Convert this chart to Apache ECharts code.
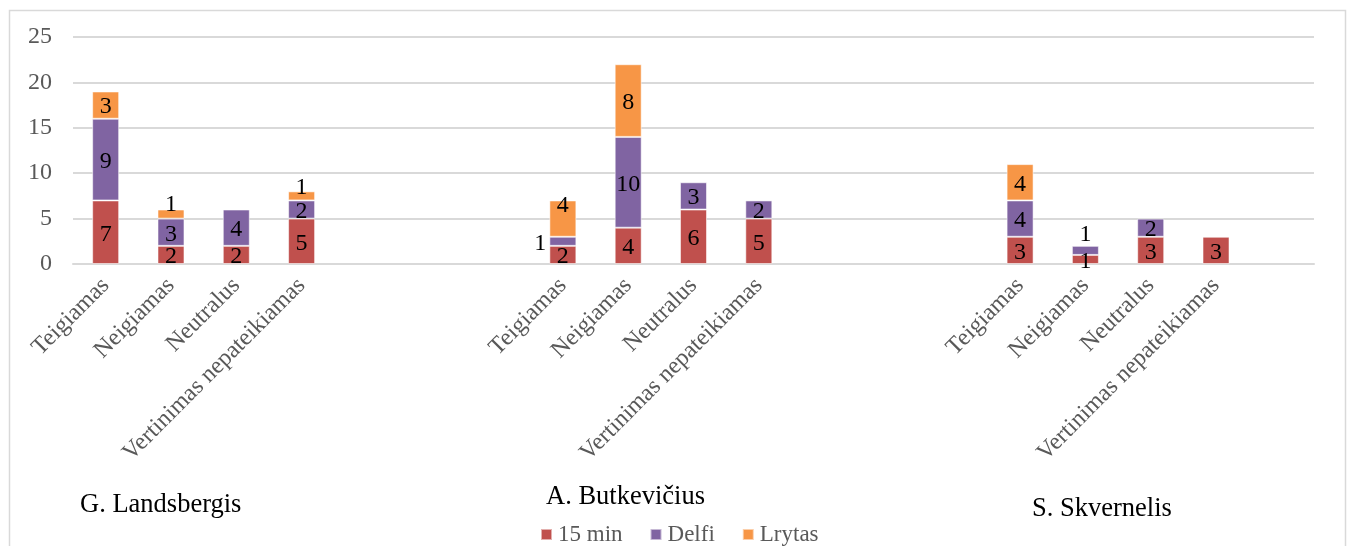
<!DOCTYPE html>
<html>
<head>
<meta charset="utf-8">
<script src="https://cdn.jsdelivr.net/npm/echarts@6/dist/echarts.min.js"></script>
<style>
html,body{margin:0;padding:0;background:#fff;}
#chart{width:1349px;height:546px;}
</style>
</head>
<body>
<div id="chart"></div>
<script>
// ---- data ----
const groups = ['G. Landsbergis', 'A. Butkevičius', 'S. Skvernelis'];
const categories = ['Teigiamas', 'Neigiamas', 'Neutralus', 'Vertinimas nepateikiamas'];
const seriesNames = ['15 min', 'Delfi', 'Lrytas'];
// values per group, in category order
const min15 = [[7, 2, 2, 5], [2, 4, 6, 5], [3, 1, 3, 3]];
const delfi = [[9, 3, 4, 2], [1, 10, 3, 2], [4, 1, 2, 0]];
const lrytas = [[3, 1, 0, 1], [4, 8, 0, 0], [4, 0, 0, 0]];
const yTicks = [0, 5, 10, 15, 20, 25];

// ---- layout helpers ----
const GAP = 3;       // empty slots between groups
const TRAIL = 1;     // empty slots at the end
const FONT = "'Liberation Serif','Times New Roman',serif";
const GRAY = '#595959';
const COLORS = ['#C0504D', '#8064A2', '#F79646'];

// label nudges (style only): key "seriesIdx-groupIdx-catIdx"
const labelNudge = {
  '2-0-1': {offset: [0, -9]},
  '2-0-3': {offset: [0, -8]},
  '1-1-0': {position: 'left', distance: 3},
  '2-1-0': {offset: [0, -13]},
  '1-2-1': {offset: [0, -16]}
};

const xCats = [];
groups.forEach((g, gi) => {
  categories.forEach(c => xCats.push(c));
  const n = gi < groups.length - 1 ? GAP : TRAIL;
  for (let k = 0; k < n; k++) xCats.push(' ' + gi + '_' + k);
});

function build(arr, si) {
  const out = [];
  arr.forEach((vals, gi) => {
    vals.forEach((v, ci) => {
      if (!v) { out.push(null); return; }
      const item = {value: v};
      const nudge = labelNudge[si + '-' + gi + '-' + ci];
      if (nudge) item.label = nudge;
      out.push(item);
    });
    const n = gi < groups.length - 1 ? GAP : TRAIL;
    for (let k = 0; k < n; k++) out.push(null);
  });
  return out;
}

const allVals = [min15, delfi, lrytas];
const series = seriesNames.map((name, si) => ({
  name: name,
  type: 'bar',
  stack: 'total',
  barWidth: 27,
  data: build(allVals[si], si),
  itemStyle: {color: COLORS[si], borderColor: 'rgba(255,255,255,0.55)', borderWidth: 1},
  label: {
    show: true,
    position: 'inside',
    color: '#000',
    fontFamily: FONT,
    fontSize: 24,
    offset: [0, 2]
  }
}));

const GFONT = "26.5px 'Liberation Serif','Times New Roman',serif";
const chart = echarts.init(document.getElementById('chart'), null, {renderer: 'canvas'});
chart.setOption({
  animation: false,
  backgroundColor: '#fff',
  grid: {left: 73, right: 35, top: 37, bottom: 282, containLabel: false},
  legend: {
    data: seriesNames,
    left: 535,
    top: 518,
    itemWidth: 11,
    itemHeight: 11,
    itemGap: 27,
    icon: 'rect',
    textStyle: {color: GRAY, fontFamily: FONT, fontSize: 23, padding: [0, 0, 0, 1]}
  },
  xAxis: {
    type: 'category',
    data: xCats,
    axisLine: {show: true, lineStyle: {color: '#d9d9d9', width: 2}},
    axisTick: {show: false},
    axisLabel: {
      interval: 0,
      rotate: 45,
      margin: 18,
      color: GRAY,
      fontFamily: FONT,
      fontSize: 24,
      formatter: v => (v.charAt(0) === ' ' ? '' : v)
    }
  },
  yAxis: {
    type: 'value',
    min: yTicks[0],
    max: yTicks[yTicks.length - 1],
    interval: yTicks[1] - yTicks[0],
    axisLine: {show: false},
    axisTick: {show: false},
    splitLine: {lineStyle: {color: '#d9d9d9', width: 2}},
    axisLabel: {color: GRAY, fontFamily: FONT, fontSize: 24, margin: 21}
  },
  graphic: [
    {type: 'rect', left: 7, top: 8, shape: {width: 1336, height: 560}, style: {fill: 'none', stroke: '#d9d9d9', lineWidth: 1.5}, z: -1},
    {type: 'text', left: 80, top: 492, style: {text: groups[0], fill: '#000', font: GFONT}},
    {type: 'text', left: 546, top: 484, style: {text: groups[1], fill: '#000', font: GFONT}},
    {type: 'text', left: 1032, top: 496, style: {text: groups[2], fill: '#000', font: GFONT}}
  ],
  series: series
});
</script>
</body>
</html>
